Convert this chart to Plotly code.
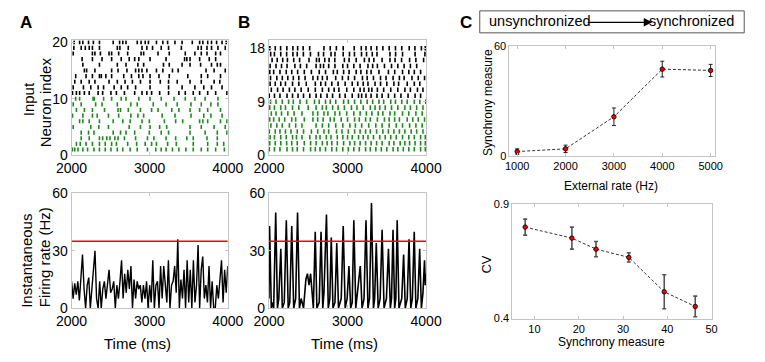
import plotly.graph_objects as go

# ---------------- DATA ----------------
# Panel A raster: spike times (ms) per input neuron (rows 1..20)
a_rows = {
    20: [2033, 2103, 2144, 2217, 2279, 2357, 2533, 2615, 2656, 2697, 2841, 2890, 2943, 2984, 3087, 3169, 3230, 3324, 3415, 3546, 3640, 3681, 3743, 3792, 3857, 3927, 3980],
    19: [2029, 2123, 2176, 2226, 2267, 2357, 2586, 2619, 2726, 2902, 2964, 3037, 3148, 3242, 3406, 3620, 3661, 3734, 3792, 3874, 3968],
    18: [2021, 2267, 2299, 2369, 2480, 2513, 2603, 2718, 2890, 2923, 3107, 3251, 3456, 3579, 3661, 3734, 3845, 3907],
    17: [2135, 2267, 2390, 2513, 2636, 2738, 2808, 2861, 3005, 3210, 3447, 3476, 3517, 3640, 3763, 3845],
    16: [2144, 2357, 2586, 2697, 2849, 2923, 3177, 3251, 3415, 3517, 3652, 3792, 3866, 3907],
    15: [2164, 2193, 2299, 2513, 2595, 2709, 2820, 2861, 2902, 2964, 3087, 3169, 3292, 3365, 3722, 3825, 3968],
    14: [2053, 2185, 2267, 2357, 2381, 2439, 2513, 2668, 2767, 2861, 2914, 3005, 3119, 3251, 3488, 3661, 3743, 3907],
    13: [2041, 2123, 2226, 2299, 2480, 2586, 2685, 2779, 2882, 3005, 3136, 3242, 3353, 3517, 3661, 3825, 3898],
    12: [2021, 2152, 2246, 2340, 2410, 2545, 2636, 2718, 2820, 3005, 3242, 3415, 3579, 3693, 3792, 3927],
    11: [2012, 2062, 2103, 2164, 2226, 2340, 2398, 2504, 2574, 2677, 2808, 2902, 2964, 3025, 3128, 3242, 3374, 3456, 3558, 3640, 3743, 3845, 3989],
    10: [2053, 2103, 2275, 2291, 2410, 2513, 2636, 2697, 2861, 3005, 3148, 3312, 3456, 3579, 3710, 3874],
    9: [2021, 2123, 2308, 2390, 2586, 2759, 2841, 3046, 3210, 3353, 3529, 3661, 3784, 3874],
    8: [2062, 2164, 2267, 2422, 2595, 2627, 2726, 2882, 3025, 3107, 3283, 3374, 3517, 3640, 3743, 3907],
    7: [2012, 2144, 2267, 2328, 2472, 2603, 2759, 2849, 2923, 3160, 3324, 3529, 3693, 3784, 3927],
    6: [2103, 2144, 2226, 2357, 2533, 2656, 2750, 2902, 2996, 3189, 3333, 3423, 3640, 3681, 3743, 3907, 3989],
    5: [2021, 2246, 2349, 2472, 2738, 2882, 3005, 3128, 3218, 3517, 3661, 3825, 3968],
    4: [2123, 2217, 2287, 2533, 2627, 2697, 2808, 2996, 3148, 3242, 3517, 3710, 3866, 3989],
    3: [2123, 2226, 2357, 2398, 2451, 2492, 2554, 2595, 2677, 2820, 2972, 3054, 3210, 3333, 3476, 3558, 3734, 3866],
    2: [2062, 2111, 2185, 2267, 2357, 2431, 2513, 2574, 2718, 2833, 2943, 3025, 3087, 3230, 3341, 3558, 3743, 3866, 3948],
    1: [2012, 2041, 2082, 2144, 2205, 2287, 2357, 2431, 2504, 2586, 2656, 2750, 2841, 2972, 3078, 3148, 3210, 3292, 3374, 3464, 3558, 3661, 3743, 3845, 3956],
}
a_green_max = 10   # rows 1..10 drawn green

# Panel B raster: spike times (ms) per input neuron (rows 1..18)
b_rows = {
    18: [2012, 2080, 2148, 2228, 2305, 2365, 2435, 2518, 2700, 2780, 2858, 2945, 3085, 3175, 3235, 3300, 3372, 3450, 3530, 3610, 3690, 3785, 3858, 3940, 3990],
    17: [2022, 2070, 2150, 2225, 2305, 2360, 2438, 2528, 2630, 2695, 2790, 2840, 2945, 3025, 3088, 3178, 3242, 3315, 3375, 3540, 3612, 3700, 3860, 3985],
    16: [2040, 2105, 2175, 2235, 2315, 2390, 2510, 2605, 2640, 2710, 2765, 2838, 2960, 3020, 3110, 3215, 3275, 3335, 3440, 3540, 3605, 3688, 3790, 3870, 3968],
    15: [2015, 2090, 2160, 2230, 2330, 2400, 2480, 2600, 2655, 2695, 2760, 2840, 2940, 3000, 3080, 3160, 3260, 3320, 3380, 3470, 3560, 3640, 3720, 3800, 3880],
    14: [2010, 2060, 2140, 2220, 2290, 2365, 2450, 2540, 2640, 2720, 2820, 2870, 2950, 3020, 3110, 3170, 3245, 3300, 3400, 3520, 3600, 3700, 3780, 3850, 3930],
    13: [2020, 2100, 2170, 2240, 2310, 2380, 2460, 2560, 2620, 2680, 2740, 2850, 2935, 3010, 3090, 3190, 3250, 3330, 3420, 3490, 3580, 3660, 3720, 3820, 3900, 3980],
    12: [2015, 2080, 2150, 2210, 2300, 2380, 2475, 2590, 2660, 2720, 2800, 2880, 2970, 3060, 3130, 3200, 3260, 3350, 3420, 3500, 3590, 3650, 3760, 3850, 3920],
    11: [2030, 2110, 2180, 2260, 2330, 2410, 2500, 2590, 2680, 2760, 2830, 2890, 2990, 3080, 3160, 3210, 3270, 3310, 3380, 3460, 3550, 3640, 3730, 3800, 3890, 3960],
    10: [2003, 2070, 2140, 2230, 2300, 2370, 2440, 2520, 2600, 2660, 2740, 2810, 2900, 2970, 3060, 3140, 3180, 3235, 3300, 3375, 3440, 3520, 3600, 3680, 3770, 3860, 3930],
    9: [2020, 2090, 2170, 2250, 2310, 2395, 2480, 2580, 2640, 2720, 2780, 2850, 2950, 3010, 3090, 3170, 3250, 3320, 3400, 3460, 3550, 3610, 3690, 3760, 3850, 3920, 3995],
    8: [2010, 2070, 2150, 2210, 2300, 2380, 2500, 2600, 2680, 2730, 2810, 2880, 2960, 3050, 3120, 3200, 3290, 3350, 3410, 3480, 3560, 3640, 3730, 3800, 3880, 3960],
    7: [2030, 2090, 2160, 2240, 2320, 2420, 2560, 2620, 2700, 2750, 2840, 2900, 2990, 3080, 3160, 3240, 3310, 3390, 3450, 3540, 3600, 3700, 3780, 3870, 3950],
    6: [2010, 2060, 2130, 2200, 2290, 2340, 2450, 2560, 2620, 2690, 2780, 2830, 2920, 3000, 3090, 3150, 3230, 3290, 3380, 3470, 3530, 3600, 3660, 3760, 3830, 3900, 3980],
    5: [2025, 2100, 2170, 2260, 2340, 2420, 2600, 2680, 2760, 2850, 2940, 3030, 3100, 3180, 3270, 3360, 3440, 3530, 3620, 3700, 3790, 3870, 3950],
    4: [2005, 2080, 2140, 2210, 2280, 2360, 2440, 2540, 2620, 2700, 2760, 2860, 2930, 3010, 3090, 3160, 3230, 3290, 3370, 3450, 3520, 3590, 3660, 3730, 3810, 3880, 3960],
    3: [2015, 2070, 2150, 2220, 2300, 2350, 2420, 2520, 2600, 2650, 2730, 2790, 2870, 2940, 3000, 3060, 3140, 3200, 3260, 3330, 3410, 3480, 3550, 3620, 3700, 3780, 3850, 3930, 3990],
    2: [2010, 2080, 2150, 2225, 2290, 2360, 2450, 2530, 2600, 2680, 2740, 2800, 2870, 2950, 3030, 3090, 3160, 3230, 3300, 3370, 3440, 3530, 3590, 3670, 3730, 3790, 3860, 3930, 3990],
    1: [2005, 2070, 2140, 2230, 2300, 2360, 2440, 2530, 2590, 2650, 2720, 2800, 2860, 2940, 3010, 3080, 3150, 3230, 3290, 3360, 3430, 3500, 3580, 3640, 3710, 3780, 3850, 3930, 3990],
}
b_green_max = 9

# Panel A instantaneous firing rate (Hz), sampled every 20 ms from 2000 to 4000 ms
a_rate_t = list(range(2000, 4001, 20))
a_rate = [14, 5, 13, 7, 14, 4, 16, 28, 10, 0,
          12, 16, 0, 9, 20, 30, 5, 0, 14, 0,
          10, 14, 5, 14, 20, 8, 10, 14, 0, 12,
          5, 14, 25, 5, 18, 8, 20, 10, 22, 0,
          15, 5, 14, 10, 12, 3, 12, 5, 14, 0,
          12, 3, 25, 0, 12, 14, 0, 22, 5, 22,
          12, 3, 25, 0, 12, 14, 22, 8, 36, 0,
          15, 5, 20, 0, 25, 3, 20, 0, 25, 3,
          12, 33, 0, 20, 27, 5, 12, 3, 22, 0,
          14, 0, 0, 12, 5, 15, 25, 3, 20, 8, 22]

# Panel B instantaneous firing rate: polyline vertices (ms, Hz)
b_rate_t = [2000, 2008, 2030, 2050, 2060, 2086, 2108, 2125, 2151, 2170, 2195, 2221, 2245, 2265, 2290,
            2315, 2340, 2364, 2388, 2410, 2440, 2470, 2490, 2510, 2530, 2550, 2565, 2589, 2610, 2640,
            2663, 2685, 2700, 2732, 2755, 2775, 2793, 2815, 2840, 2863, 2885, 2920, 2945, 2970, 2995,
            3018, 3040, 3060, 3080, 3105, 3130, 3162, 3185, 3210, 3235, 3260, 3280, 3305, 3330, 3345,
            3366, 3390, 3415, 3440, 3465, 3495, 3521, 3545, 3560, 3579, 3600, 3615, 3632, 3655, 3690,
            3714, 3735, 3760, 3783, 3805, 3825, 3849, 3870, 3895, 3918, 3940, 3960, 3980, 3990, 4000]
b_rate = [5, 43, 0, 3, 0, 50, 0, 5, 31, 0, 3, 46, 0, 3, 43,
          0, 5, 50, 0, 5, 0, 15, 18, 12, 18, 5, 0, 40, 0, 3,
          40, 0, 8, 49, 0, 5, 37, 0, 3, 34, 0, 5, 43, 0, 5,
          22, 0, 3, 46, 0, 10, 22, 0, 5, 46, 0, 5, 55, 0, 5,
          34, 0, 5, 41, 0, 5, 31, 0, 5, 41, 0, 5, 46, 0, 5,
          28, 0, 5, 36, 0, 5, 40, 0, 5, 31, 0, 8, 25, 12, 18]
threshold = 35

# Panel C top
ext_rate = [1000, 2000, 3000, 4000, 5000]
sync = [2.5, 4.0, 21.5, 47.5, 46.8]
sync_err = [1.5, 2.0, 4.8, 4.3, 3.3]

# Panel C bottom
sync_x = [7.9, 18.45, 23.9, 31.3, 39.3, 46.3]
cv = [0.799, 0.751, 0.703, 0.667, 0.517, 0.453]
cv_err = [0.035, 0.048, 0.033, 0.02, 0.074, 0.045]

# ---------------- FIGURE ----------------
W, H = 765, 362
FONT = "Arial, Liberation Sans, Helvetica, sans-serif"
GREEN = "#1f8a1f"
BOXC = "#c4c4c4"

def dx(a, b):
    return [a / W, b / W]

def dy(top, bottom):
    return [1 - bottom / H, 1 - top / H]

fig = go.Figure()

def add_raster(rows, green_max, half, xa, ya):
    for color, sel in ((GREEN, lambda r: r <= green_max), ("black", lambda r: r > green_max)):
        xs, ys = [], []
        for r, times in rows.items():
            if not sel(r):
                continue
            for t in times:
                xs += [t, t, None]
                ys += [r - half, r + half, None]
        fig.add_trace(go.Scatter(x=xs, y=ys, mode="lines", line=dict(color=color, width=1.6),
                                 xaxis=xa, yaxis=ya, showlegend=False, hoverinfo="skip"))

add_raster(a_rows, a_green_max, 0.36, "x", "y")
add_raster(b_rows, b_green_max, 0.38, "x3", "y3")

# rate traces
fig.add_trace(go.Scatter(x=a_rate_t, y=a_rate, mode="lines", line=dict(color="black", width=1.4),
                         xaxis="x2", yaxis="y2", showlegend=False))
fig.add_trace(go.Scatter(x=[2000, 4000], y=[threshold, threshold], mode="lines",
                         line=dict(color="#ff0000", width=1.5), xaxis="x2", yaxis="y2", showlegend=False))
fig.add_trace(go.Scatter(x=b_rate_t, y=b_rate, mode="lines", line=dict(color="black", width=1.6),
                         xaxis="x4", yaxis="y4", showlegend=False))
fig.add_trace(go.Scatter(x=[2000, 4000], y=[threshold, threshold], mode="lines",
                         line=dict(color="#ff0000", width=1.5), xaxis="x4", yaxis="y4", showlegend=False))

# C top
fig.add_trace(go.Scatter(x=ext_rate, y=sync, mode="lines+markers",
                         line=dict(color="#333333", width=1, dash="3px,2px"),
                         marker=dict(color="#ee0000", size=4.5, line=dict(color="black", width=0.8)),
                         error_y=dict(type="data", array=sync_err, color="#222222", thickness=1, width=2),
                         xaxis="x5", yaxis="y5", showlegend=False))
# C bottom
fig.add_trace(go.Scatter(x=sync_x, y=cv, mode="lines+markers",
                         line=dict(color="#333333", width=1, dash="3px,2px"),
                         marker=dict(color="#ee0000", size=4.5, line=dict(color="black", width=0.8)),
                         error_y=dict(type="data", array=cv_err, color="#555555", thickness=1.6, width=2),
                         xaxis="x6", yaxis="y6", showlegend=False))

def ax(domain, rng, tickvals, size=14, anchor=None):
    d = dict(domain=domain, range=rng, tickvals=tickvals, showline=True, linecolor=BOXC, linewidth=1,
             mirror="ticks", ticks="inside", ticklen=3, tickcolor=BOXC, showgrid=False, zeroline=False,
             tickfont=dict(size=size, color="black", family=FONT), fixedrange=True)
    if anchor:
        d["anchor"] = anchor
    return d

fig.update_layout(
    width=W, height=H, autosize=False,
    margin=dict(l=0, r=0, t=0, b=0),
    paper_bgcolor="white", plot_bgcolor="white",
    font=dict(family=FONT, color="black"),
    xaxis=ax(dx(58, 221), [2000, 4000], [2000, 3000, 4000], anchor="y"),
    yaxis=ax(dy(34, 154), [0, 20.3], [0, 10, 20], anchor="x"),
    xaxis2=ax(dx(58, 221), [2000, 4000], [2000, 3000, 4000], anchor="y2"),
    yaxis2=ax(dy(194, 314), [0, 60], [0, 30, 60], anchor="x2"),
    xaxis3=ax(dx(264, 428), [2000, 4000], [2000, 3000, 4000], anchor="y3"),
    yaxis3=ax(dy(34, 154), [0, 19.29], [0, 9, 18], anchor="x3"),
    xaxis4=ax(dx(264, 428), [2000, 4000], [2000, 3000, 4000], anchor="y4"),
    yaxis4=ax(dy(194, 314), [0, 60], [0, 30, 60], anchor="x4"),
    xaxis5=ax(dx(515, 729), [840, 5080], [1000, 2000, 3000, 4000, 5000], size=11, anchor="y5"),
    yaxis5=ax(dy(40, 155), [0, 60], [0, 60], size=11, anchor="x5"),
    xaxis6=ax(dx(518, 726), [5, 50], [10, 20, 30, 40, 50], size=11, anchor="y6"),
    yaxis6=ax(dy(205, 325), [0.4, 0.9], [0.4, 0.9], size=11, anchor="x6"),
)

def ann(text, x, y, size, angle=0, bold=False):
    if bold:
        text = "<b>" + text + "</b>"
    fig.add_annotation(text=text, x=x / W, y=1 - y / H, xref="paper", yref="paper",
                       showarrow=False, textangle=angle, xanchor="center", yanchor="middle",
                       font=dict(size=size, color="black", family=FONT))

# panel letters
ann("A", 10, 15, 17, bold=True)
ann("B", 238, 15, 17, bold=True)
ann("C", 470, 15, 17, bold=True)

# axis titles A/B
ann("Input", 13, 95, 15, angle=-90)
ann("Neuron index", 31, 99, 15, angle=-90)
ann("Instantaneous", 11, 265, 15, angle=-90)
ann("Firing rate (Hz)", 30, 261, 15, angle=-90)
ann("Time (ms)", 127, 351, 15)
ann("Time (ms)", 343, 351, 15)

# axis titles C
ann("Synchrony measure", 492, 99, 12, angle=-90)
ann("External rate (Hz)", 621, 186, 12)
ann("CV", 491, 268, 13, angle=-90)
ann("Synchrony measure", 622, 349, 12)

# unsynchronized -> synchronized box
fig.add_shape(type="rect", xref="paper", yref="paper", x0=484 / W, x1=760 / W,
              y0=1 - 26 / H, y1=1 - 3 / H, line=dict(color="#555555", width=1), fillcolor="white")
fig.add_annotation(text="unsynchronized", x=492 / W, y=1 - 14 / H, xref="paper", yref="paper",
                   showarrow=False, xanchor="left", yanchor="middle",
                   font=dict(size=14.5, color="black", family=FONT))
fig.add_annotation(text="synchronized", x=751 / W, y=1 - 14 / H, xref="paper", yref="paper",
                   showarrow=False, xanchor="right", yanchor="middle",
                   font=dict(size=14.5, color="black", family=FONT))
fig.add_annotation(text="", x=664 / W, y=1 - 15 / H, xref="paper", yref="paper",
                   ax=-66, ay=0, showarrow=True, arrowhead=2, arrowsize=1.3, arrowwidth=1.3,
                   arrowcolor="black")

# the page's default 8px body margin would otherwise push the 765x362 figure out of the window
fig.write_html("out.html", config={"displayModeBar": False},
               post_script="document.body.style.margin='0';document.body.style.overflow='hidden';")
